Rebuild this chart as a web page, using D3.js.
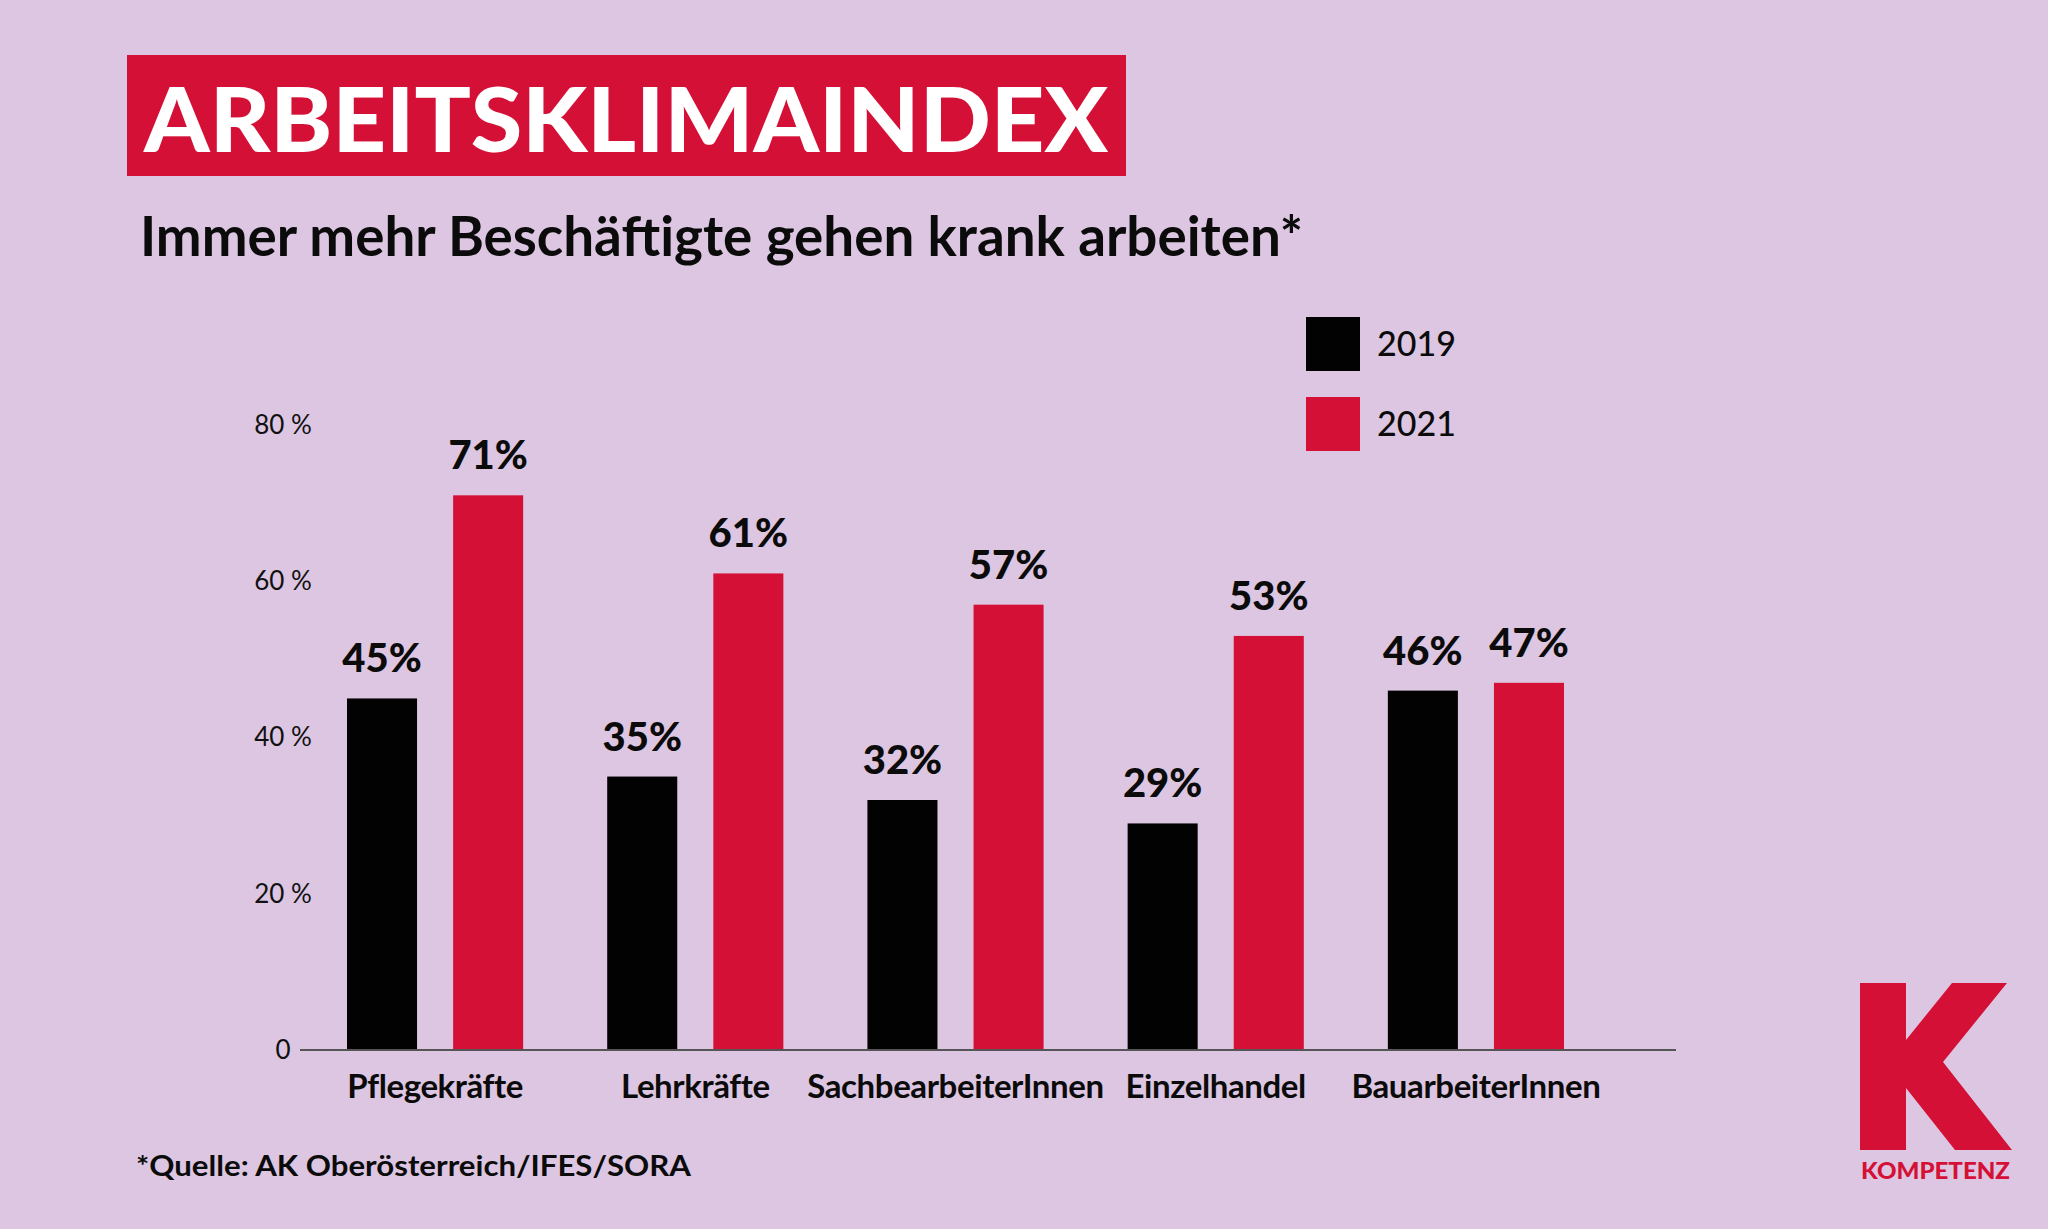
<!DOCTYPE html>
<html>
<head>
<meta charset="utf-8">
<script src="https://cdn.jsdelivr.net/npm/d3@7"></script>
<style>
  html, body { margin: 0; padding: 0; background: #dcc6e1; }
  svg { display: block; }
  text { font-family: Lato, "Open Sans", sans-serif; fill: #0b0b0b; }
</style>
</head>
<body>
<div id="chart"></div>
<script>
const categories = ["Pflegekräfte", "Lehrkräfte", "SachbearbeiterInnen", "Einzelhandel", "BauarbeiterInnen"];
const years = ["2019", "2021"];
const values2019 = [45, 35, 32, 29, 46];
const values2021 = [71, 61, 57, 53, 47];
const yTicks = [0, 20, 40, 60, 80];

const W = 2048, H = 1229;
const red = "#d51037", black = "#020202";
const colors = { "2019": black, "2021": red };

const svg = d3.select("#chart").append("svg")
    .attr("width", W)
    .attr("height", H);

svg.append("rect").attr("width", W).attr("height", H).attr("fill", "#dcc6e1");

// header
svg.append("rect")
    .attr("x", 127).attr("y", 55)
    .attr("width", 999).attr("height", 121)
    .attr("fill", red);

svg.append("text")
    .attr("x", 144).attr("y", 152)
    .attr("textLength", 964)
    .attr("lengthAdjust", "spacingAndGlyphs")
    .style("font-size", "90px")
    .style("font-weight", 900)
    .style("fill", "#fff")
    .text("ARBEITSKLIMAINDEX");

svg.append("text")
    .attr("x", 140).attr("y", 256)
    .attr("textLength", 1163)
    .attr("lengthAdjust", "spacingAndGlyphs")
    .style("font-size", "56px")
    .style("font-weight", 700)
    .text("Immer mehr Beschäftigte gehen krank arbeiten*");

// scales
const y = d3.scaleLinear().domain([0, 80]).range([1050, 425]);

const x0 = d3.scaleBand()
    .domain(categories)
    .range([347, 1564])
    .paddingInner(0.323)
    .paddingOuter(0);

const x1 = d3.scaleBand()
    .domain(years)
    .range([0, x0.bandwidth()])
    .paddingInner(0.34);

const rows = categories.map((c, i) => ({
    category: c,
    values: [
        { year: "2019", value: values2019[i] },
        { year: "2021", value: values2021[i] }
    ]
}));

// y tick labels
const yAxis = svg.append("g")
    .attr("transform", "translate(283,0)")
    .call(d3.axisLeft(y).tickValues(yTicks).tickSize(0)
        .tickFormat(d => d === 0 ? "0" : d + " %"));
yAxis.select(".domain").remove();
yAxis.selectAll("text")
    .attr("x", 0)
    .attr("text-anchor", "middle")
    .style("font-family", "Lato, sans-serif")
    .style("font-size", "26px")
    .style("font-weight", 400)
    .style("fill", "#111");

// bars
const groups = svg.selectAll(".group")
    .data(rows)
    .join("g")
    .attr("class", "group")
    .attr("transform", d => `translate(${x0(d.category)},0)`);

groups.selectAll("rect")
    .data(d => d.values)
    .join("rect")
    .attr("x", d => x1(d.year))
    .attr("y", d => y(d.value))
    .attr("width", x1.bandwidth())
    .attr("height", d => y(0) - y(d.value))
    .attr("fill", d => colors[d.year]);

groups.selectAll(".val")
    .data(d => d.values)
    .join("text")
    .attr("class", "val")
    .attr("x", d => x1(d.year) + x1.bandwidth() / 2)
    .attr("y", d => y(d.value) - 26)
    .attr("text-anchor", "middle")
    .style("font-size", "40px")
    .style("font-weight", 900)
    .text(d => d.value + "%");

// baseline
svg.append("line")
    .attr("x1", 300).attr("x2", 1676)
    .attr("y1", y(0)).attr("y2", y(0))
    .attr("stroke", "#555")
    .attr("stroke-width", 2);

// category labels
const xAxis = svg.append("g")
    .attr("transform", `translate(0,${y(0)})`)
    .call(d3.axisBottom(x0).tickSize(0).tickPadding(25));
xAxis.select(".domain").remove();
xAxis.selectAll("text")
    .style("font-family", "Lato, sans-serif")
    .style("font-size", "33px")
    .style("letter-spacing", "-0.4px")
    .style("font-weight", 700)
    .style("fill", "#0b0b0b");

// legend
const legend = svg.append("g")
    .selectAll("g")
    .data(years)
    .join("g")
    .attr("transform", (d, i) => `translate(1306,${317 + i * 80})`);

legend.append("rect")
    .attr("width", 54).attr("height", 54)
    .attr("fill", d => colors[d]);

legend.append("text")
    .attr("x", 71).attr("y", 27)
    .attr("dy", "0.35em")
    .style("font-size", "34px")
    .style("font-weight", 500)
    .text(d => d);

// source
svg.append("text")
    .attr("x", 136).attr("y", 1176)
    .attr("textLength", 555)
    .attr("lengthAdjust", "spacingAndGlyphs")
    .style("font-size", "29px")
    .style("font-weight", 700)
    .text("*Quelle: AK Oberösterreich/IFES/SORA");

// logo
const kShape = [[1860, 983], [1906, 983], [1906, 1040], [1952, 983], [2007, 983], [1943, 1062],
    [2012, 1150], [1955, 1150], [1906, 1088], [1906, 1150], [1860, 1150]];
svg.append("path")
    .attr("d", d3.line()(kShape) + "Z")
    .attr("fill", red);

svg.append("text")
    .attr("x", 1861).attr("y", 1179)
    .attr("textLength", 149)
    .attr("lengthAdjust", "spacingAndGlyphs")
    .style("font-size", "23px")
    .style("font-weight", 900)
    .style("fill", red)
    .text("KOMPETENZ");
</script>
</body>
</html>
